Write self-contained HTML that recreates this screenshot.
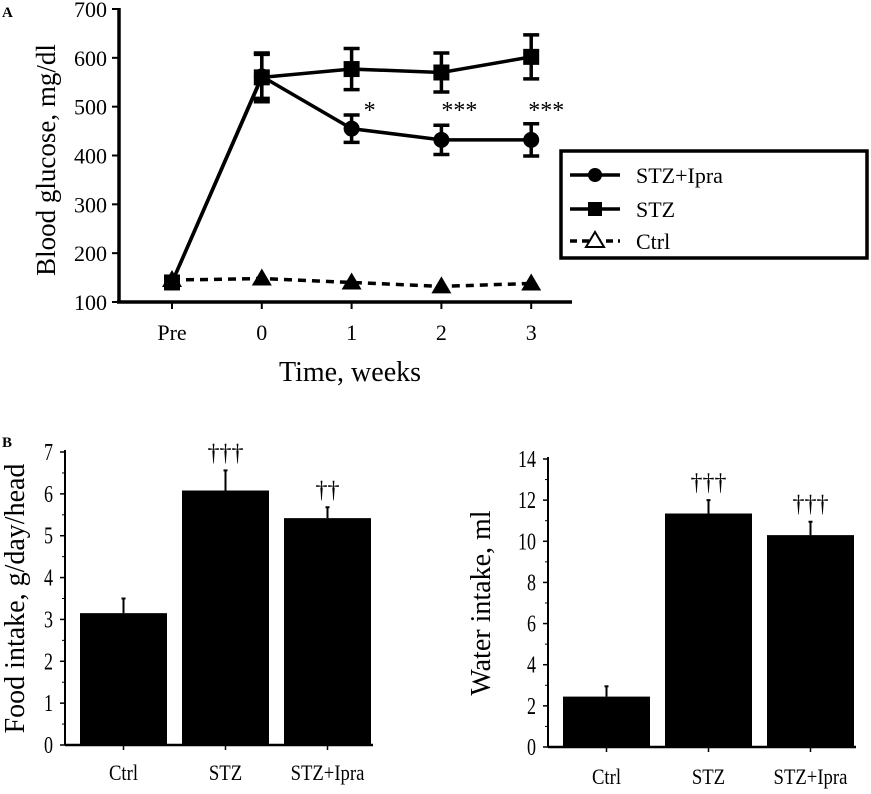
<!DOCTYPE html>
<html><head><meta charset="utf-8"><style>
body{margin:0;background:#fff;}
svg text{font-family:"Liberation Serif",serif;fill:#000;}
</style></head><body>
<svg id="c" width="871" height="789" viewBox="0 0 871 789" xmlns="http://www.w3.org/2000/svg"></svg>
<script>
const weeks=["Pre","0","1","2","3"];
const stzIpra=[140,562,455,432,432];
const stzIpraErr=[0,45,28,30,33];
const stz=[140,560,577,570,602];
const stzErr=[0,50,42,40,45];
const ctrl=[145,148,140,132,138];
const glucTicks=[100,200,300,400,500,600,700];
const groups=["Ctrl","STZ","STZ+Ipra"];
const food=[3.15,6.08,5.42];
const foodErr=[0.35,0.48,0.26];
const foodTicks=[0,1,2,3,4,5,6,7];
const foodSig=["","†††","††"];
const water=[2.45,11.35,10.3];
const waterErr=[0.5,0.65,0.65];
const waterTicks=[0,2,4,6,8,10,12,14];
const waterSig=["","†††","†††"];

const svg=document.getElementById('c');
const NS="http://www.w3.org/2000/svg";
function el(t,a,p){const e=document.createElementNS(NS,t);for(const k in a)e.setAttribute(k,a[k]);(p||svg).appendChild(e);return e;}
function txt(s,a,p){const e=el('text',a,p);e.textContent=s;return e;}

// Panel A
const gA=el('g',{});


const xA=i=>172+i*89.8;
const yA=v=>302-(v-100)*(293/600);
el('line',{x1:119,y1:8,x2:119,y2:303,stroke:'#000','stroke-width':3.5},gA);
el('line',{x1:117,y1:302,x2:572,y2:302,stroke:'#000','stroke-width':3.5},gA);
glucTicks.forEach(t=>{el('line',{x1:112,x2:119,y1:yA(t),y2:yA(t),stroke:'#000','stroke-width':2},gA);
 const l=txt(t,{x:107,y:yA(t)+8,'font-size':22,'text-anchor':'end'},gA);
 });
weeks.forEach((w,i)=>{el('line',{x1:xA(i),x2:xA(i),y1:302,y2:309,stroke:'#000','stroke-width':2},gA);
 const l=txt(w,{x:xA(i),y:340,'font-size':22,'text-anchor':'middle'},gA);
 });
const yt=txt('Blood glucose, mg/dl',{x:0,y:0,'font-size':27,'text-anchor':'middle',transform:'translate(55,160) rotate(-90)'},gA);

const xt=txt('Time, weeks',{x:350,y:381,'font-size':28,'text-anchor':'middle'},gA);

const la=txt('A',{x:2,y:17,'font-size':15,'font-weight':'bold','font-family':'Liberation Sans'},gA);

function line(vals,dash,name){const p=el('polyline',{points:vals.map((v,i)=>xA(i)+','+yA(v)).join(' '),fill:'none',stroke:'#000','stroke-width':3.5,'stroke-dasharray':dash||''},gA);}
function errs(vals,e){vals.forEach((v,i)=>{if(!e[i])return;const x=xA(i);el('line',{x1:x,x2:x,y1:yA(v+e[i]),y2:yA(v-e[i]),stroke:'#000','stroke-width':3.5},gA);
 [v+e[i],v-e[i]].forEach(u=>el('line',{x1:x-8,x2:x+8,y1:yA(u),y2:yA(u),stroke:'#000','stroke-width':3.5},gA));});}
line(ctrl,'8,6','ctrl-line');
line(stz,'','stz-line');line(stzIpra,'','stz-ipra-line');
errs(stz,stzErr);errs(stzIpra,stzIpraErr);
stz.forEach((v,i)=>{const m=el('rect',{x:xA(i)-8,y:yA(v)-8,width:16,height:16,fill:'#000'},gA);});
stzIpra.forEach((v,i)=>{const m=el('circle',{cx:xA(i),cy:yA(v),r:8,fill:'#000'},gA);});
ctrl.forEach((v,i)=>{const x=xA(i),y=yA(v);const m=el('polygon',{points:`${x},${y-10} ${x-10},${y+7} ${x+10},${y+7}`,fill:'#000'},gA);});
[['*',2,18],['***',3,18],['***',4,15]].forEach(([s,i,dx])=>{const t=txt(s,{x:xA(i)+dx,y:118,'font-size':24,'text-anchor':'middle'},gA);});
// legend
const lg=el('g',{},gA);
el('rect',{x:561,y:151,width:306,height:107,fill:'#fff',stroke:'#000','stroke-width':3.5},lg);
[['STZ+Ipra',175,'c',''],['STZ',209,'s',''],['Ctrl',241,'t','7,5']].forEach(([n,y,m,d])=>{
 const e=el('g',{},lg);
 el('line',{x1:570,x2:620,y1:y,y2:y,stroke:'#000','stroke-width':3.5,'stroke-dasharray':d},e);
 if(m=='c')el('circle',{cx:595,cy:y,r:7,fill:'#000'},e);
 if(m=='s')el('rect',{x:588,y:y-7,width:14,height:14,fill:'#000'},e);
 if(m=='t')el('polygon',{points:`595,${y-9} 586,${y+6} 604,${y+6}`,fill:'#fff',stroke:'#000','stroke-width':2},e);
 txt(n,{x:636,y:y+8,'font-size':22},e);});

// Panel B
const lb=txt('B',{x:2,y:447,'font-size':15,'font-weight':'bold','font-family':'Liberation Sans'});

function bars(name,ax,y0,yTop,maxV,ticks,vals,err,sig,title,tx,labY){
 const g=el('g',{});
 const y=v=>y0-v*(y0-yTop)/maxV;
 el('line',{x1:ax,x2:ax,y1:yTop-2,y2:y0,stroke:'#000','stroke-width':2},g);
 el('line',{x1:ax,x2:ax+308,y1:y0,y2:y0,stroke:'#000','stroke-width':2.5},g);
 const step=ticks[1]-ticks[0];
 ticks.forEach((t,k)=>{el('line',{x1:ax-5,x2:ax,y1:y(t),y2:y(t),stroke:'#000','stroke-width':1.5},g);
  if(k<ticks.length-1)el('line',{x1:ax-3,x2:ax,y1:y(t+step/2),y2:y(t+step/2),stroke:'#000','stroke-width':1},g);
  const lx=ax-12;
  const l=txt(t,{x:lx,y:y(t)+8,'font-size':24,'text-anchor':'end',transform:`translate(${lx},0) scale(0.75,1) translate(${-lx},0)`},g);
  });
 vals.forEach((v,i)=>{const bx=ax+15+i*102,cx=bx+43.5;
  const b=el('rect',{x:bx,y:y(v),width:87,height:y0-y(v),fill:'#000'},g);
  el('line',{x1:cx,x2:cx,y1:y(v),y2:y(v+err[i]),stroke:'#000','stroke-width':2},g);
  el('line',{x1:cx-2,x2:cx+2,y1:y(v+err[i]),y2:y(v+err[i]),stroke:'#000','stroke-width':2},g);
  el('line',{x1:cx,x2:cx,y1:y0,y2:y0+5,stroke:'#000','stroke-width':1.5},g);
  if(sig[i]){const s=txt(sig[i],{x:cx,y:y(v+err[i])-10,'font-size':24,'text-anchor':'middle'},g);}
  const l=txt(groups[i],{x:cx,y:labY,'font-size':22,'text-anchor':'middle',transform:`translate(${cx},0) scale(0.85,1) translate(${-cx},0)`},g);});
 const t=txt(title,{x:0,y:0,'font-size':28,'text-anchor':'middle',transform:`translate(${tx},${(y0+yTop)/2}) rotate(-90)`},g);
}
bars('food-intake-chart',65,745,452,7,foodTicks,food,foodErr,foodSig,'Food intake, g/day/head',24,780);
bars('water-intake-chart',548,747,459,14,waterTicks,water,waterErr,waterSig,'Water intake, ml',490,784);
</script>
</body></html>
